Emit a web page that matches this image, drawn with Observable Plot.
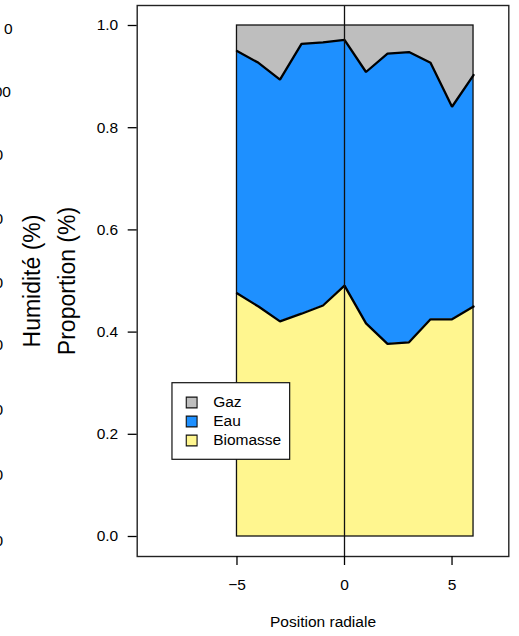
<!DOCTYPE html>
<html>
<head>
<meta charset="utf-8">
<script src="https://cdn.jsdelivr.net/npm/d3@7"></script>
<script src="https://cdn.jsdelivr.net/npm/@observablehq/plot@0.6"></script>
<style>
  html, body { margin: 0; padding: 0; background: #fff; overflow: hidden; }
  svg { display: block; }
</style>
</head>
<body>
<div id="chart"></div>
<script>
// ---- data ----
const positions = [-5, -4, -3, -2, -1, 0, 1, 2, 3, 4, 5, 6];
const biomasse  = [0.476, 0.450, 0.421, 0.436, 0.452, 0.491, 0.417, 0.377, 0.380, 0.425, 0.425, 0.450];
const eau       = [0.474, 0.477, 0.473, 0.528, 0.515, 0.481, 0.492, 0.568, 0.568, 0.502, 0.416, 0.453];
const gaz       = [0.050, 0.073, 0.106, 0.036, 0.033, 0.028, 0.091, 0.055, 0.052, 0.073, 0.159, 0.097];

const legendLabels = ["Gaz", "Eau", "Biomasse"];
const legendColors = ["#BEBEBE", "#1E90FF", "#FFF68F"];
const yTicks = [0, 0.2, 0.4, 0.6, 0.8, 1.0];
const xTicks = [-5, 0, 5];
const xLabel = "Position radiale";
const yLabel = "Proportion (%)";
const yLabel2 = "Humidité (%)";
const legendAnchor = {x: -8, y: 0.3};

// remnant labels of an underlying axis (clipped at the left edge)
const remnantTop = [{y: 0.994, t: "0"}];
const remnantSecond = [{y: 0.869, t: "00"}];
const remnantRest = [0.746, 0.622, 0.497, 0.374, 0.247, 0.121, -0.008].map(y => ({y, t: "0"}));

// ---- build table ----
const rows = positions.map((p, i) => {
  const b = biomasse[i];
  const top = b + eau[i];
  return {pos: p, b0: 0, b1: b, e0: b, e1: top, g0: top, g1: top + gaz[i]};
});
const xMin = d3.min(positions), xMax = d3.max(positions);

const legendItems = legendLabels.map((l, i) => ({label: l, color: legendColors[i], i}));

const marks = [
  Plot.areaY(rows, {x: "pos", y1: "g0", y2: () => 1, fill: legendColors[0]}),
  Plot.areaY(rows, {x: "pos", y1: "e0", y2: "e1", fill: legendColors[1]}),
  Plot.areaY(rows, {x: "pos", y1: "b0", y2: "b1", fill: legendColors[2]}),
  Plot.rect([{}], {x1: xMin, x2: xMax, y1: 0, y2: 1, stroke: "#111", strokeWidth: 1.3, fill: "none"}),
  Plot.lineY(rows, {x: "pos", y: "b1", stroke: "#000", strokeWidth: 2.3, strokeLinejoin: "miter"}),
  Plot.lineY(rows, {x: "pos", y: "e1", stroke: "#000", strokeWidth: 2.3, strokeLinejoin: "miter"}),
  Plot.ruleX([0], {stroke: "#111", strokeWidth: 1.3}),
  Plot.frame({stroke: "#222", strokeWidth: 1.4}),
  Plot.axisY({ticks: yTicks, tickFormat: d => d.toFixed(1), tickSize: 9, tickPadding: 10, label: null, fontSize: 15.5, strokeWidth: 1.3}),
  Plot.axisX({ticks: xTicks, tickSize: 9, tickPadding: 13.6, label: null, fontSize: 15.5, strokeWidth: 1.3}),
  Plot.text([xLabel], {frameAnchor: "bottom", textAnchor: "middle", dy: 70, fontSize: 15.5, fill: "#000"}),
  Plot.text([yLabel], {frameAnchor: "left", textAnchor: "middle", rotate: -90, dx: -69.1, fontSize: 23, fill: "#000"}),
  Plot.text([yLabel2], {frameAnchor: "left", textAnchor: "middle", rotate: -90, dx: -104.1, fontSize: 23, fill: "#000"}),
  Plot.text(remnantTop, {y: "y", text: "t", frameAnchor: "left", textAnchor: "end", dx: 12 - 136.7, fontSize: 15.5, fill: "#000"}),
  Plot.text(remnantSecond, {y: "y", text: "t", frameAnchor: "left", textAnchor: "end", dx: 10.5 - 136.7, fontSize: 15.5, fill: "#000"}),
  Plot.text(remnantRest, {y: "y", text: "t", frameAnchor: "left", textAnchor: "end", dx: 2.5 - 136.7, fontSize: 15.5, fill: "#000"}),
  // legend box
  Plot.rect([legendAnchor], {x1: "x", x2: "x", y1: "y", y2: "y", insetRight: -117.7, insetBottom: -76.6, fill: "#fff", stroke: "#111", strokeWidth: 1.2})
];
legendItems.forEach(it => {
  marks.push(Plot.dot([legendAnchor], {x: "x", y: "y", symbol: "square", r: 6.1, fill: it.color, stroke: "#111", strokeWidth: 1.1, dx: 19.2, dy: 19.3 + 19 * it.i}));
  marks.push(Plot.text([legendAnchor], {x: "x", y: "y", text: () => it.label, textAnchor: "start", dx: 40.7, dy: 19.3 + 19 * it.i, fontSize: 15.5, fill: "#000"}));
});

const chart = Plot.plot({
  width: 519,
  height: 636,
  marginLeft: 136.7,
  marginRight: 10.7,
  marginTop: 5,
  marginBottom: 80,
  x: {domain: [-9.64, 7.64]},
  y: {domain: [-20 / 511, 1 + 20 / 511]},
  style: {fontFamily: "'Liberation Sans', Arial, Helvetica, sans-serif", fontSize: "15.5px", color: "#000", background: "#fff", overflow: "visible"},
  marks
});
document.getElementById("chart").appendChild(chart);
</script>
</body>
</html>
